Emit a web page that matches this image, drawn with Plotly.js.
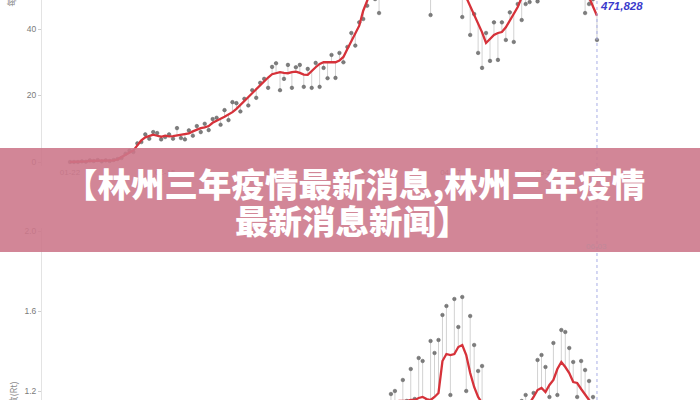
<!DOCTYPE html>
<html><head><meta charset="utf-8">
<script src="https://cdn.plot.ly/plotly-3.0.1.min.js"></script>
<style>html,body{margin:0;padding:0;background:#fff}#chart{width:700px;height:400px}</style>
</head><body><div id="chart"></div>
<script>
// ---- data ----
const startTop = '2020-01-22';
const startLow = '2020-04-09';
const markerDate = '2020-06-03';
const markerLabel = '471,828';
const markerDateLabel = '06-03';
const xTickVals = ['2020-01-22','2020-02-15','2020-03-10','2020-04-03','2020-04-27','2020-05-21'];
const xTickText = ['01-22','02-15','03-10','04-03','04-27','05-21'];
const topTicks = [0, 20, 40];
const lowTicks = [1.2, 1.6, 2.0];
const topYTitle = '每日新增病例(千)';
const lowYTitle = '有效再生数(Rt)';
const titleLine1 = '【林州三年疫情最新消息,林州三年疫情';
const titleLine2 = '最新消息新闻】';

const topAvg = [0,0,0,0.1,0.2,0.3,0.4,0.4,0.4,0.4,
  0.4,0.5,0.8,1.5,2.2,3.0,3.5,5.0,6.5,7.4,
  7.9,8.2,7.9,7.6,7.9,7.7,7.8,8.0,8.2,8.3,
  8.6,9.2,9.8,10.2,10.4,10.8,11.8,12.5,13.0,13.6,
  14.2,15.0,16.0,17.2,18.4,19.6,20.8,22.0,23.0,24.2,
  25.4,26.4,26.8,27.0,26.8,26.7,27.0,27.2,26.8,26.3,
  26.2,27.5,28.5,29.5,30.0,30.0,30.0,30.0,30.5,31.6,
  34.0,36.5,38.5,41.0,45.5,49.0,51.5,53.0,54.0,54.5,
  55.0,55.0,54.5,54.0,54.5,55.0,55.5,55.5,55.0,55.0,
  54.5,54.0,54.0,53.5,53.5,53.0,52.5,52.0,51.5,51.0,
  49.5,47.0,44.5,42.0,39.0,35.8,37.0,38.2,38.8,39.1,
  40.5,42.5,44.2,46.6,49.5,51.5,52.5,53.0,53.5,54.0,
  54.0,54.0,54.0,54.0,53.5,53.5,53.0,52.5,52.0,51.5,
  51.0,49.5,46.6,44.0];
const topPts = [0,0,0,0.2,0.1,0.5,0.3,0.6,0.2,0.5,
  0.3,0.6,0.9,1.2,2.5,3.4,3.0,5.6,6.0,8.3,
  7.0,9.0,8.7,6.8,7.5,8.3,7.0,10.2,7.2,6.8,
  9.5,7.9,10.8,9.0,11.5,9.6,12.9,13.3,11.2,15.6,
  12.6,18.0,17.7,15.2,19.0,17.0,21.6,19.3,23.8,25.0,
  22.3,28.6,29.7,21.6,25.0,29.2,22.3,28.5,29.2,22.6,
  28.0,22.3,29.8,22.6,28.3,25.2,32.2,25.3,32.8,30.0,
  34.6,38.8,35.0,42.0,43.0,47.0,54.0,49.0,44.8,57.0,
  52.0,59.0,50.0,57.0,53.0,49.5,60.0,52.0,58.0,53.0,
  59.0,44.2,57.0,51.0,58.0,50.0,56.0,49.5,55.0,43.6,
  50.5,38.2,44.5,32.8,28.3,38.8,30.4,42.0,30.7,42.0,
  36.7,45.0,36.1,47.5,42.7,47.5,48.1,57.0,48.3,58.0,
  51.0,57.0,50.0,58.5,51.0,56.0,50.5,55.0,49.5,53.0,
  44.8,47.5,49.0,36.7];
const lowAvg = [1.10,1.11,1.12,1.13,1.14,1.15,1.15,1.15,1.155,1.155,
  1.165,1.17,1.16,1.155,1.17,1.19,1.35,1.385,1.38,1.385,
  1.42,1.43,1.38,1.29,1.22,1.17,1.14,1.11,1.09,1.07,
  1.06,1.05,1.05,1.06,1.07,1.08,1.10,1.12,1.14,1.17,
  1.205,1.215,1.195,1.23,1.255,1.31,1.345,1.32,1.29,1.245,
  1.24,1.21,1.18,1.155,1.13,1.11];
const lowPts = [1.08,1.12,1.14,1.185,1.20,1.14,1.255,1.15,1.31,1.16,
  1.365,1.35,1.15,1.45,1.39,1.455,1.58,1.625,1.18,1.66,
  1.52,1.67,1.20,1.575,1.43,1.30,1.325,1.10,1.02,1.12,
  1.00,1.09,0.98,1.08,1.13,1.03,1.15,1.18,1.08,1.19,
  1.355,1.38,1.32,1.17,1.44,1.18,1.505,1.495,1.415,1.345,
  1.17,1.35,1.305,1.25,1.17,1.14];

// ---- build ----
const DAY = 86400000;
function up(p, a) { return p.map((v, i) => Math.max(a[i] - v, 0)); }
function down(p, a) { return p.map((v, i) => Math.max(v - a[i], 0)); }

const tickFont = {family: 'Liberation Sans, Arial, sans-serif', size: 8.5, color: '#7a7a7a'};
const ptMarker = {size: 3.6, color: '#7d7d7d', line: {width: 0.5, color: '#5a5a5a'}};
const errStyle = {type: 'data', symmetric: false, color: '#d2d2d2', thickness: 1, width: 0};
const redLine = {color: '#d6323a', width: 2.3};

const traces = [
  {type: 'scatter', mode: 'markers', x0: startTop, dx: DAY, y: topPts, xaxis: 'x', yaxis: 'y',
   marker: ptMarker, error_y: Object.assign({array: up(topPts, topAvg), arrayminus: down(topPts, topAvg)}, errStyle), hoverinfo: 'skip'},
  {type: 'scatter', mode: 'lines', x0: startTop, dx: DAY, y: topAvg, xaxis: 'x', yaxis: 'y', line: redLine, hoverinfo: 'skip'},
  {type: 'scatter', mode: 'markers', x0: startLow, dx: DAY, y: lowPts, xaxis: 'x', yaxis: 'y2',
   marker: ptMarker, error_y: Object.assign({array: up(lowPts, lowAvg), arrayminus: down(lowPts, lowAvg)}, errStyle), hoverinfo: 'skip'},
  {type: 'scatter', mode: 'lines', x0: startLow, dx: DAY, y: lowAvg, xaxis: 'x', yaxis: 'y2', line: redLine, hoverinfo: 'skip'}
];

const yCommon = {showline: true, linecolor: '#e3e3e3', linewidth: 1, ticks: 'outside', ticklen: 3, tickcolor: '#cfcfcf',
  tickfont: tickFont, showgrid: false, zeroline: false, anchor: 'x', fixedrange: true};

const layout = {
  width: 700, height: 400, margin: {l: 0, r: 0, t: 0, b: 0},
  paper_bgcolor: '#fff', plot_bgcolor: '#fff', showlegend: false,
  xaxis: {type: 'date', domain: [0.06, 1], range: ['2020-01-14 22:18', '2020-06-29 00:00'], anchor: 'y',
    tickvals: xTickVals, ticktext: xTickText, tickfont: {family: 'Liberation Sans, Arial, sans-serif', size: 8, color: '#7f7f7f'},
    showgrid: false, zeroline: false, showline: false, ticks: ''},
  yaxis: Object.assign({domain: [0.585, 1], range: [-1.2, 48.72], tickvals: topTicks}, yCommon),
  yaxis2: Object.assign({domain: [0, 0.43], range: [1.155, 2.015], tickvals: lowTicks, tickformat: '.1f'}, yCommon),
  shapes: [
    {type: 'line', xref: 'x', yref: 'paper', x0: markerDate, x1: markerDate, y0: 0, y1: 1,
     line: {color: '#a8aee6', width: 1, dash: 'dot'}, layer: 'above'},
    {type: 'rect', xref: 'paper', yref: 'paper', x0: 0, x1: 1, y0: 0.37, y1: 0.63,
     fillcolor: 'rgba(205,119,138,0.89)', line: {width: 0}, layer: 'above'}
  ],
  annotations: [
    {xref: 'x', yref: 'paper', x: markerDate, y: 0.986, xanchor: 'left', yanchor: 'middle', xshift: 1,
     text: '<b><i>' + markerLabel + '</i></b>', showarrow: false,
     font: {family: 'Liberation Sans, Arial, sans-serif', size: 11.5, color: '#3a3acc'}},
    {xref: 'x', yref: 'paper', x: markerDate, y: 0.3825, xanchor: 'center', yanchor: 'middle',
     text: markerDateLabel, showarrow: false, font: {family: 'Liberation Sans, Arial, sans-serif', size: 8, color: '#c0899a'}},
    {xref: 'paper', yref: 'paper', x: 0.017, y: 0.98, xanchor: 'center', yanchor: 'bottom', textangle: -90,
     text: topYTitle, showarrow: false, font: {family: 'Noto Sans CJK SC, sans-serif', size: 9, color: '#8a8a8a'}},
    {xref: 'paper', yref: 'paper', x: 0.018, y: 0.05, xanchor: 'center', yanchor: 'top', textangle: -90,
     text: lowYTitle, showarrow: false, font: {family: 'Noto Sans CJK SC, sans-serif', size: 9, color: '#8a8a8a'}},
    {xref: 'paper', yref: 'paper', x: 0.507, y: 1 - 182 / 400, xanchor: 'center', yanchor: 'middle',
     text: titleLine1, showarrow: false, font: {family: 'Noto Sans CJK SC, sans-serif', size: 33.5, color: '#ffffff', weight: 900}},
    {xref: 'paper', yref: 'paper', x: 0.503, y: 1 - 219 / 400, xanchor: 'center', yanchor: 'middle',
     text: titleLine2, showarrow: false, font: {family: 'Noto Sans CJK SC, sans-serif', size: 33.5, color: '#ffffff', weight: 900}}
  ]
};

Plotly.newPlot('chart', traces, layout, {staticPlot: true, displayModeBar: false});
</script>
</body></html>
